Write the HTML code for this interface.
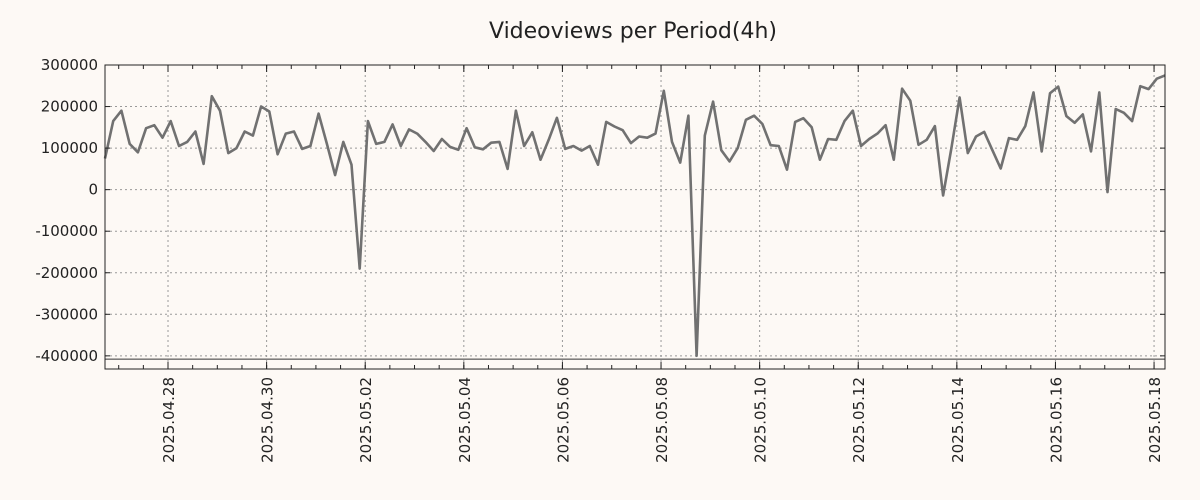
<!DOCTYPE html>
<html><head><meta charset="utf-8"><style>
html,body{margin:0;padding:0;background:#fdf9f5;}
svg{display:block;font-family:"DejaVu Sans","Liberation Sans",sans-serif;}
</style></head><body>
<svg id="chart" width="1200" height="500" viewBox="0 0 1200 500">
<rect x="0" y="0" width="1200" height="500" fill="#fdf9f5"/>
<text x="633" y="38" font-size="22" text-anchor="middle" fill="#222">Videoviews per Period(4h)</text>
<g id="grid"></g><g id="series"></g><g id="axes"></g>
</svg>
<script>
const values = [75,165,190,110,90,148,155,125,165,105,115,140,62,225,190,88,100,140,130,200,188,85,135,140,98,105,183,110,35,115,60,-190,165,110,115,157,105,145,135,115,93,122,103,96,148,102,97,113,115,50,190,105,138,72,120,173,98,105,94,105,60,163,152,143,112,128,125,135,238,115,65,178,-400,130,212,95,68,100,168,178,158,107,105,48,163,172,150,72,122,120,165,190,105,122,135,155,72,243,214,108,120,153,-14,100,222,88,128,139,95,51,124,120,153,234,92,232,248,177,161,181,92,234,-6,194,185,165,249,242,267,275].map(v=>v*1000);
const yTicks = [300000,200000,100000,0,-100000,-200000,-300000,-400000];
const dateLabels = ["2025.04.28","2025.04.30","2025.05.02","2025.05.04","2025.05.06","2025.05.08","2025.05.10","2025.05.12","2025.05.14","2025.05.16","2025.05.18"];
const firstTickDay = 1.278; // days after first data point
const stepDays = 4/24;
const refLine = -408000;

const L=105,R=1165,T=65,B=369;
const pxPerDay=(R-L)/21.5;
const x=d=>L+d*pxPerDay;
const y=v=>T+(300000-v)/100000*41.55;
const NS="http://www.w3.org/2000/svg";
function mk(tag,attrs,parent){const e=document.createElementNS(NS,tag);for(const k in attrs)e.setAttribute(k,attrs[k]);parent.appendChild(e);return e;}
const grid=document.getElementById('grid'),axes=document.getElementById('axes'),series=document.getElementById('series');

yTicks.forEach(v=>{
  const yy=y(v);
  const g=mk('line',{x1:L,x2:R,y1:yy,y2:yy,stroke:'#999','stroke-width':1,'stroke-dasharray':'2,3'},grid);
  
  
  mk('line',{x1:L,x2:L+5,y1:yy,y2:yy,stroke:'#222','stroke-width':1},axes);
  mk('line',{x1:R-5,x2:R,y1:yy,y2:yy,stroke:'#222','stroke-width':1},axes);
  const t=mk('text',{x:L-7,y:yy+5,'font-size':15,'text-anchor':'end',fill:'#222'},axes);
  t.textContent=String(v);
  
  
});
for(let h=0;h<=21.5;h+=0.5){
  const d=firstTickDay-1+h; if(d<0||d>21.5)continue;
  const xx=x(d);
  mk('line',{x1:xx,x2:xx,y1:T,y2:T+4,stroke:'#222','stroke-width':1},axes);
  mk('line',{x1:xx,x2:xx,y1:B-4,y2:B,stroke:'#222','stroke-width':1},axes);
}
dateLabels.forEach((lab,i)=>{
  const xx=x(firstTickDay+2*i);
  const g=mk('line',{x1:xx,x2:xx,y1:T,y2:B,stroke:'#999','stroke-width':1,'stroke-dasharray':'2,3'},grid);
  
  
  mk('line',{x1:xx,x2:xx,y1:T,y2:T+7,stroke:'#222','stroke-width':1},axes);
  mk('line',{x1:xx,x2:xx,y1:B-7,y2:B,stroke:'#222','stroke-width':1},axes);
  const t=mk('text',{x:0,y:0,'font-size':15,'text-anchor':'end',fill:'#222',transform:`translate(${xx+6},${B+8}) rotate(-90)`},axes);
  t.textContent=lab;
  
  
});
const rl=mk('line',{x1:L,x2:R,y1:y(refLine),y2:y(refLine),stroke:'#333','stroke-width':1},axes);


const fr=mk('rect',{x:L,y:T,width:R-L,height:B-T,fill:'none',stroke:'#222','stroke-width':1},axes);


const pts=values.map((v,i)=>x(i*stepDays).toFixed(1)+','+y(v).toFixed(1)).join(' ');
const pl=mk('polyline',{points:pts,fill:'none',stroke:'#717171','stroke-width':2.6,'stroke-linejoin':'round'},series);


</script>
</body></html>
